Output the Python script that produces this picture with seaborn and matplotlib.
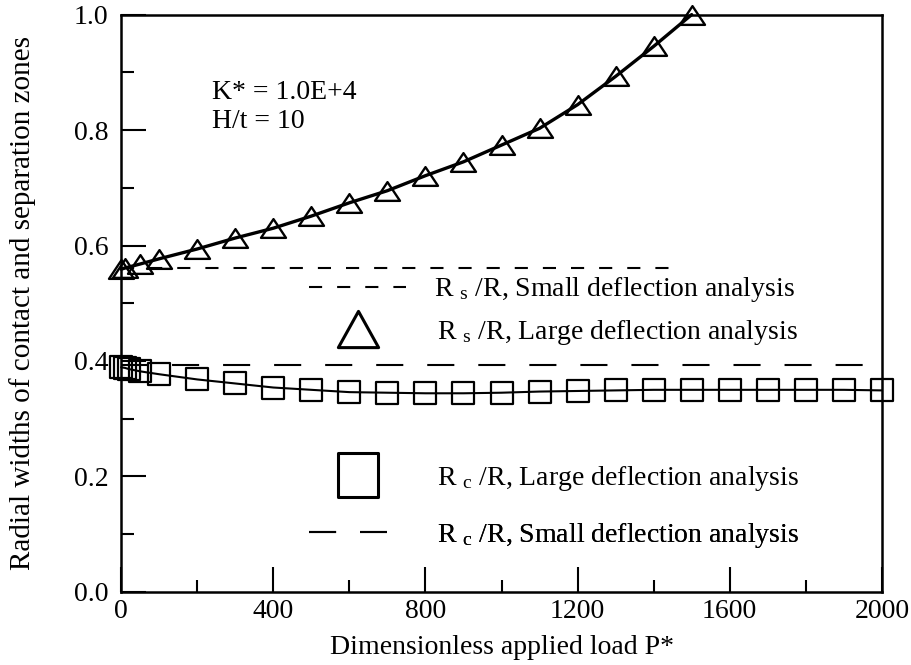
import numpy as np
import pandas as pd
import matplotlib
matplotlib.use("Agg")
import matplotlib.pyplot as plt
import matplotlib.path as mpath
from matplotlib.lines import Line2D
import seaborn as sns

# ---------------- data ----------------
rs_large_x = [0, 10, 50, 100, 200, 300, 400, 500, 600, 700, 800, 900, 1000,
              1100, 1200, 1300, 1400, 1500]
rs_large_y = [0.559, 0.561, 0.568, 0.577, 0.594, 0.613, 0.630, 0.651, 0.674,
              0.695, 0.721, 0.745, 0.774, 0.803, 0.844, 0.893, 0.945, 1.0]

rc_large_x = [0, 10, 20, 50, 100, 200, 300, 400, 500, 600, 700, 800, 900, 1000,
              1100, 1200, 1300, 1400, 1500, 1600, 1700, 1800, 1900, 2000]
rc_large_y = [0.389, 0.388, 0.386, 0.382, 0.377, 0.368, 0.361, 0.354, 0.350,
              0.346, 0.345, 0.344, 0.344, 0.345, 0.347, 0.348, 0.349, 0.350,
              0.350, 0.350, 0.350, 0.350, 0.350, 0.349]

rs_small_x = [0, 1450]
rs_small_y = [0.561, 0.561]

rc_small_x = [0, 2000]
rc_small_y = [0.393, 0.393]

x_ticks = [0, 400, 800, 1200, 1600, 2000]
y_ticks = [0.0, 0.2, 0.4, 0.6, 0.8, 1.0]

lbl_rs_small = r"R $_{\mathrm{s}}$ /R, Small deflection analysis"
lbl_rs_large = r"R $_{\mathrm{s}}$ /R, Large deflection analysis"
lbl_rc_large = r"R $_{\mathrm{c}}$ /R, Large deflection analysis"
lbl_rc_small = r"R $_{\mathrm{c}}$ /R, Small deflection analysis"

# ---------------- style ----------------
sns.set_theme(style="ticks")
plt.rcParams["font.family"] = ["Liberation Serif", "DejaVu Serif"]
plt.rcParams["mathtext.fontset"] = "custom"
plt.rcParams["mathtext.rm"] = "Liberation Serif"
plt.rcParams["mathtext.it"] = "Liberation Serif:italic"
plt.rcParams["text.color"] = "black"
plt.rcParams["axes.labelcolor"] = "black"
plt.rcParams["xtick.color"] = "black"
plt.rcParams["ytick.color"] = "black"
plt.rcParams["legend.labelcolor"] = "black"
FS = 20

tri = mpath.Path([(-1, -0.75), (1, -0.75), (0, 0.75), (-1, -0.75)], closed=True)
tri_leg = mpath.Path([(-1, -0.9), (1, -0.9), (0, 0.9), (-1, -0.9)], closed=True)
sq = mpath.Path([(-1, -0.95), (1, -0.95), (1, 0.95), (-1, 0.95), (-1, -0.95)], closed=True)
sq_leg = mpath.Path([(-0.9, -1), (0.9, -1), (0.9, 1), (-0.9, 1), (-0.9, -1)], closed=True)

short_dash = (0, (6.3, 7.2))
long_dash = (0, (13.0, 11.5))

fig = plt.figure(figsize=(9.11, 6.65), dpi=100)
ax = fig.add_axes([0.133, 0.11, 0.835, 0.868])

df_rs = pd.DataFrame({"x": rs_large_x, "y": rs_large_y})
df_rc = pd.DataFrame({"x": rc_large_x, "y": rc_large_y})
df_rss = pd.DataFrame({"x": rs_small_x, "y": rs_small_y})
df_rcs = pd.DataFrame({"x": rc_small_x, "y": rc_small_y})

sns.lineplot(data=df_rss, x="x", y="y", ax=ax, color="black", lw=1.5,
             linestyle=short_dash, sort=False)
sns.lineplot(data=df_rcs, x="x", y="y", ax=ax, color="black", lw=1.5,
             linestyle=long_dash, sort=False)
sns.lineplot(data=df_rc, x="x", y="y", ax=ax, color="black", lw=1.5,
             marker=sq, markersize=16.5, markerfacecolor="none",
             markeredgecolor="black", markeredgewidth=1.6, sort=False,
             clip_on=False)
sns.lineplot(data=df_rs, x="x", y="y", ax=ax, color="black", lw=2.4,
             marker=tri, markersize=18, markerfacecolor="none",
             markeredgecolor="black", markeredgewidth=1.7, sort=False,
             clip_on=False)

ax.set_xlim(0, 2000)
ax.set_ylim(0, 1.0)
ax.set_xticks(x_ticks)
ax.set_xticklabels([str(v) for v in x_ticks])
ax.set_yticks(y_ticks)
ax.set_yticklabels([f"{v:.1f}" for v in y_ticks])
ax.set_xticks([200, 600, 1000, 1400, 1800], minor=True)
ax.set_yticks([0.1, 0.3, 0.5, 0.7, 0.9], minor=True)
ax.tick_params(which="major", direction="in", length=18, width=1.5,
               labelsize=FS, colors="black", pad=5, top=False, right=False)
ax.tick_params(axis="y", which="major", pad=9)
ax.tick_params(which="minor", direction="in", length=9, width=1.5,
               top=False, right=False)
for s in ax.spines.values():
    s.set_linewidth(1.8)
    s.set_color("black")

ax.set_xlabel("Dimensionless applied load P*", fontsize=FS, color="black", labelpad=8)
ax.set_ylabel("Radial widths of contact and separation zones", fontsize=21,
              color="black")
ax.yaxis.set_label_coords(-0.112, 0.5)

ax.text(0.12, 0.886, "K* = 1.0E+4\nH/t = 10", transform=ax.transAxes,
        fontsize=FS, va="top", ha="left", linespacing=1.2, color="black")

# ---------------- legends ----------------
def add_leg(handle, label, y, hl, pad):
    lg = ax.legend([handle], [label], loc="center left",
                   bbox_to_anchor=(0.247, y), frameon=False, fontsize=FS,
                   handlelength=hl, handletextpad=pad, borderpad=0,
                   borderaxespad=0, labelcolor="black")
    ax.add_artist(lg)

h1 = Line2D([], [], color="black", lw=1.5, linestyle=short_dash)
h2 = Line2D([], [], color="none", marker=tri_leg, markersize=29,
            markerfacecolor="none", markeredgecolor="black", markeredgewidth=2.2)
h3 = Line2D([], [], color="none", marker=sq_leg, markersize=32,
            markerfacecolor="none", markeredgecolor="black", markeredgewidth=2.2)
h4 = Line2D([], [], color="black", lw=1.5, linestyle=long_dash)

add_leg(h1, lbl_rs_small, 0.523, 3.5, 1.0)
add_leg(h2, lbl_rs_large, 0.45, 3.5, 1.1)
add_leg(h3, lbl_rc_large, 0.196, 3.5, 1.1)
add_leg(h4, lbl_rc_small, 0.098, 2.8, 1.8)

fig.savefig("out.png", dpi=100)
